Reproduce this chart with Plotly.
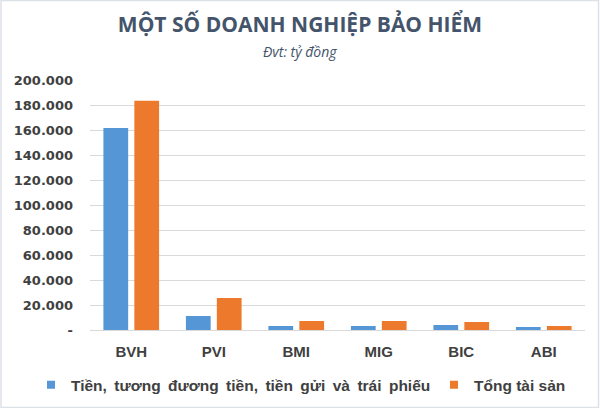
import plotly.graph_objects as go

categories = ["BVH", "PVI", "BMI", "MIG", "BIC", "ABI"]
tien_gui = [161600, 11200, 3200, 3200, 4000, 2400]
tong_tai_san = [183500, 25600, 7200, 7200, 6400, 3200]
series_names = ["Tiền, tương đương tiền, tiền gửi và trái phiếu", "Tổng tài sản"]
tick_vals = [0, 20000, 40000, 60000, 80000, 100000, 120000, 140000, 160000, 180000, 200000]
tick_text = ["-", "20.000", "40.000", "60.000", "80.000", "100.000", "120.000",
             "140.000", "160.000", "180.000", "200.000"]

blue = "#5597D6"
orange = "#ED7A2C"

fig = go.Figure()
fig.add_trace(go.Bar(x=categories, y=tien_gui, name=series_names[0], showlegend=False,
                     marker=dict(color=blue, line=dict(width=0))))
fig.add_trace(go.Bar(x=categories, y=tong_tai_san, name=series_names[1], showlegend=False,
                     marker=dict(color=orange, line=dict(width=0))))

# legend entries with small square swatches (reference uses wider word spacing in first label)
wide_name = series_names[0].replace(" ", " \u2009")
fig.add_trace(go.Scatter(x=[None], y=[None], mode="markers", name=f"<b>{wide_name}</b>",
                         marker=dict(symbol="square", size=8, color=blue), legend="legend",
                         hoverinfo="skip"))
fig.add_trace(go.Scatter(x=[None], y=[None], mode="markers", name=f"<b>{series_names[1]}</b>",
                         marker=dict(symbol="square", size=8, color=orange), legend="legend2",
                         hoverinfo="skip"))

legend_font = dict(family="Liberation Sans", size=15.5, color="#404040")
fig.update_layout(
    width=600, height=408,
    paper_bgcolor="white", plot_bgcolor="white",
    margin=dict(l=90, r=15, t=80, b=78, autoexpand=False),
    barmode="group", bargap=0.25, bargroupgap=0.2,
    title=dict(text="<b>MỘT SỐ DOANH NGHIỆP BẢO HIỂM</b>", x=0.5, xanchor="center",
               y=0.94, yanchor="middle", yref="container", xref="container",
               font=dict(family="Open Sans", size=21, color="#44546A")),
    showlegend=True,
    legend=dict(orientation="h", x=31 / 600, xanchor="left", xref="container",
                y=0.056, yanchor="middle", yref="container", font=legend_font,
                itemwidth=30, bgcolor="rgba(0,0,0,0)"),
    legend2=dict(orientation="h", x=434 / 600, xanchor="left", xref="container",
                 y=0.056, yanchor="middle", yref="container", font=legend_font,
                 itemwidth=30, bgcolor="rgba(0,0,0,0)"),
    font=dict(family="DejaVu Sans", color="#404040"),
)
fig.add_annotation(text="<i>Đvt: tỷ đồng</i>", xref="paper", yref="paper", x=0.424, y=1.112,
                   xanchor="center", yanchor="middle", showarrow=False,
                   font=dict(family="Open Sans", size=14, color="#44546A"))

fig.update_yaxes(range=[0, 200000], tickvals=tick_vals, ticktext=[f"<b>{t}</b>" for t in tick_text],
                 showgrid=True, gridcolor="#D9D9D9", gridwidth=1, zeroline=False,
                 showline=False, ticks="", automargin=False, ticklabelstandoff=16,
                 tickfont=dict(family="DejaVu Sans", size=13, color="#404040"))
fig.update_xaxes(showline=True, linecolor="#D9D9D9", linewidth=1, ticks="", automargin=False,
                 tickvals=categories, ticktext=[f"<b>{c}</b>" for c in categories],
                 ticklabelstandoff=8,
                 tickfont=dict(family="Liberation Sans", size=15, color="#404040"))

fig.add_shape(type="rect", xref="paper", yref="paper", x0=-0.1798, x1=1.0273, y0=-0.31, y1=1.318,
              line=dict(color="#DCE1E8", width=1.5))

fig.write_html("out.html", post_script="document.body.style.margin='0';",
               config={"displayModeBar": False})
